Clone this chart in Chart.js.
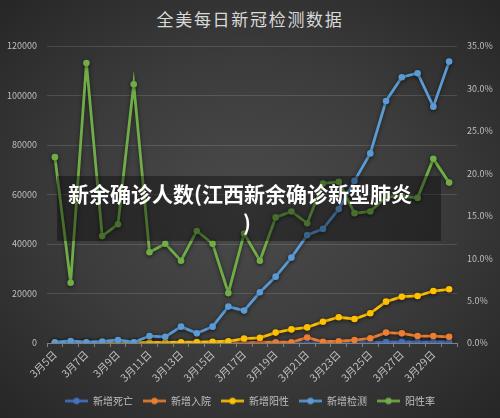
<!DOCTYPE html>
<html>
<head>
<meta charset="utf-8">
<script src="https://cdn.jsdelivr.net/npm/chart.js@4/dist/chart.umd.min.js"></script>
<style>
  html, body { margin: 0; padding: 0; width: 500px; height: 418px; overflow: hidden; }
  body {
    position: relative;
    background: radial-gradient(ellipse farthest-corner at 50% 50%, #4b4b4b 0%, #3c3c3c 50%, #262626 100%);
    font-family: "Noto Sans CJK SC", "Noto Sans", sans-serif;
  }
  #title {
    position: absolute; left: 0; top: 7px; width: 500px; text-align: center;
    font-size: 17px; line-height: 24px; color: #d9d9d9; letter-spacing: 1.7px;
  }
  #c { position: absolute; left: 0; top: 0; }
  #overlay {
    position: absolute; left: 57px; top: 176px; width: 384px; height: 65px;
    background: rgba(0,0,0,0.36);
  }
  #overlay .l1 {
    position: absolute; left: 11px; top: 3px; white-space: nowrap;
    font-size: 21px; line-height: 28px; font-weight: bold; color: #ffffff;
  }
  #overlay .l2 {
    position: absolute; left: 0; top: 32px; width: 380px; text-align: center;
    font-size: 21px; line-height: 28px; font-weight: bold; color: #ffffff;
  }
</style>
</head>
<body>
<div id="title">全美每日新冠检测数据</div>
<canvas id="c" width="500" height="418"></canvas>
<div id="overlay"><div class="l1">新余确诊人数(江西新余确诊新型肺炎</div><div class="l2">)</div></div>
<script>
const dates = ['3月5日','3月6日','3月7日','3月8日','3月9日','3月10日','3月11日','3月12日','3月13日','3月14日','3月15日','3月16日','3月17日','3月18日','3月19日','3月20日','3月21日','3月22日','3月23日','3月24日','3月25日','3月26日','3月27日','3月28日','3月29日','3月30日'];
const newDeaths = [0,0,0,0,0,0,0,0,0,0,0,0,0,0,0,0,100,100,150,200,250,350,450,350,400,400];
const newHospitalized = [0,0,0,0,0,0,0,0,0,0,0,0,50,300,300,300,2200,500,700,1200,1900,4200,3900,2800,2800,2500];
const newPositive = [100,100,100,150,200,150,200,250,300,350,500,700,1800,2100,4200,5500,6300,8600,10400,9700,12000,16700,18700,19000,21000,21700];
const newTests = [300,800,300,600,1200,300,2800,2500,6600,3900,6600,14700,13100,20500,26800,34500,43600,46100,54100,65500,76600,97800,107400,109000,95500,113700];
const positiveRate = [21.9,7.1,33.0,12.6,14.0,30.5,10.7,11.7,9.7,13.2,11.7,5.9,12.9,9.7,14.8,15.5,14.1,18.8,19.0,15.3,15.5,17.2,17.3,17.1,21.7,18.9];
const seriesNames = ['新增死亡','新增入院','新增阳性','新增检测','阳性率'];
const leftTicks = [0,20000,40000,60000,80000,100000,120000];
const rightTicks = [0,5,10,15,20,25,30,35];

const colors = ['#4472C4','#ED7D31','#FFC000','#5B9BD5','#70AD47'];
const seriesData = [newDeaths, newHospitalized, newPositive, newTests, positiveRate];
const drawOrder = [5,4,3,2,1];

function legendIcon(color) {
  const cv = document.createElement('canvas');
  cv.width = 23; cv.height = 9;
  const g = cv.getContext('2d');
  g.strokeStyle = color; g.lineWidth = 2.5;
  g.beginPath(); g.moveTo(0, 4.5); g.lineTo(23, 4.5); g.stroke();
  g.fillStyle = color;
  g.beginPath(); g.arc(11.5, 4.5, 3.2, 0, Math.PI * 2); g.fill();
  return cv;
}
const icons = colors.map(legendIcon);

const datasets = seriesNames.map((name, i) => ({
  label: name,
  data: seriesData[i],
  yAxisID: i === 4 ? 'y1' : 'y',
  borderColor: colors[i],
  backgroundColor: colors[i],
  pointBackgroundColor: colors[i],
  pointBorderColor: colors[i],
  pointRadius: 3.3,
  pointBorderWidth: 0,
  borderWidth: 2.8,
  tension: 0,
  fill: false,
  order: drawOrder[i]
}));

const shadowPlugin = {
  id: 'lineShadow',
  beforeDatasetDraw(chart) {
    const ctx = chart.ctx;
    ctx.save();
    ctx.shadowColor = 'rgba(0,0,0,0.55)';
    ctx.shadowBlur = 4;
    ctx.shadowOffsetY = 1;
  },
  afterDatasetDraw(chart) { chart.ctx.restore(); }
};

const FONT = "'Noto Sans CJK SC', 'Noto Sans', sans-serif";
const gridColor = 'rgba(255,255,255,0.13)';
const textColor = '#bfbfbf';

new Chart(document.getElementById('c'), {
  type: 'line',
  data: { labels: dates, datasets },
  plugins: [shadowPlugin],
  options: {
    responsive: false,
    animation: false,
    devicePixelRatio: 1,
    layout: { padding: { top: 46, bottom: 2, left: 0, right: 0 } },
    plugins: {
      title: { display: false },
      tooltip: { enabled: false },
      legend: {
        position: 'bottom',
        labels: {
          usePointStyle: true,
          pointStyleWidth: 23,
          padding: 10,
          color: textColor,
          font: { family: FONT, size: 10 },
          sort: (a, b) => a.datasetIndex - b.datasetIndex,
          generateLabels(chart) {
            const items = Chart.defaults.plugins.legend.labels.generateLabels(chart);
            return items.map(it => Object.assign(it, { pointStyle: icons[it.datasetIndex], fontColor: textColor }));
          }
        }
      }
    },
    scales: {
      x: {
        offset: true,
        grid: { display: true, drawOnChartArea: false, drawTicks: true, tickLength: 4, offset: true, color: '#808080' },
        border: { display: true, color: '#808080', width: 1 },
        ticks: {
          autoSkip: false, minRotation: 45, maxRotation: 45, padding: 1,
          color: textColor, font: { family: FONT, size: 10.5 },
          callback: function(v, i) { return i % 2 === 0 ? dates[i] : ''; }
        },
        afterFit(scale) { scale.height = 43; }
      },
      y: {
        position: 'left',
        min: 0, max: 120000,
        afterBuildTicks(scale) { scale.ticks = leftTicks.map(v => ({ value: v })); },
        grid: { color: gridColor, drawTicks: false, lineWidth: 1 },
        border: { display: false },
        ticks: {
          padding: 10, color: textColor, font: { family: FONT, size: 9 },
          callback: v => String(v)
        },
        afterFit(scale) { scale.width = 47; }
      },
      y1: {
        position: 'right',
        min: 0, max: 35,
        afterBuildTicks(scale) { scale.ticks = rightTicks.map(v => ({ value: v })); },
        grid: { drawOnChartArea: false, drawTicks: false },
        border: { display: false },
        ticks: {
          padding: 10, color: textColor, font: { family: FONT, size: 9 },
          callback: v => v.toFixed(1) + '%'
        },
        afterFit(scale) { scale.width = 43; }
      }
    }
  }
});
</script>
</body>
</html>
